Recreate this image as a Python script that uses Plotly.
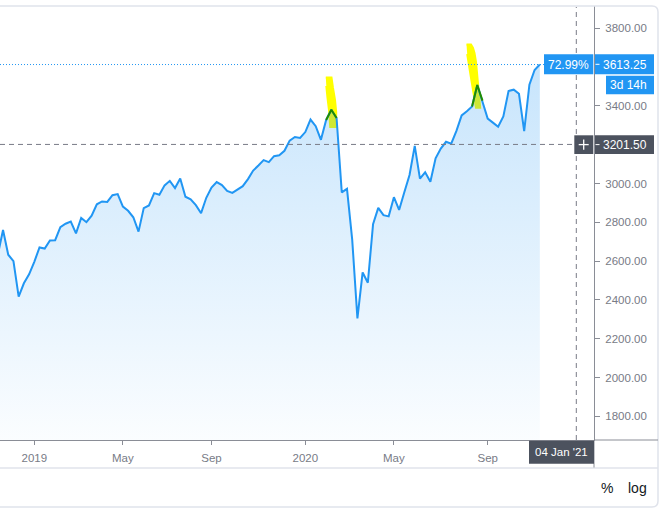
import pandas as pd
import plotly.graph_objects as go

# ---------------- data (weekly closes, week starting Monday) ----------------
week_start = "2018-11-12"
closes = [
    2736.27, 2632.56, 2760.17, 2633.08, 2599.95, 2416.62, 2485.74, 2531.94,
    2596.26, 2670.71, 2664.76, 2706.53, 2707.88, 2775.60, 2792.67, 2803.69,
    2743.07, 2822.48, 2800.71, 2834.40, 2892.74, 2907.41, 2905.03, 2939.88,
    2945.64, 2881.40, 2859.53, 2826.06, 2752.06, 2873.34, 2886.98, 2950.46,
    2941.76, 2990.41, 3013.77, 2976.61, 3025.86, 2932.05, 2918.65, 2888.68,
    2847.11, 2926.46, 2978.71, 3007.39, 2992.07, 2961.79, 2952.01, 2970.27,
    2986.20, 3022.55, 3066.91, 3093.08, 3120.46, 3110.29, 3140.98, 3145.91,
    3168.80, 3221.22, 3240.02, 3234.85,
    3265.35, 3329.62, 3295.47, 3225.52, 3327.71, 3380.16, 3337.75, 2954.22,
    2972.37, 2711.02, 2304.92, 2541.47, 2488.65, 2789.82, 2874.56, 2836.74,
    2830.71, 2929.80, 2863.70, 2955.45, 3044.31, 3193.93, 3025.00, 3058.00,
    3009.05, 3130.01, 3180.00, 3215.00, 3205.00, 3271.12, 3351.28, 3372.85,
    3397.16, 3508.01, 3426.96, 3335.00, 3314.00, 3293.00, 3345.44, 3477.13,
    3483.81, 3462.39, 3269.96, 3509.44, 3585.15, 3613.25,
]
weeks = pd.date_range(week_start, periods=len(closes), freq="7D")

tick_dates = ["2019-01-07", "2019-05-06", "2019-09-02",
              "2020-01-06", "2020-05-04", "2020-09-07"]
tick_labels = ["2019", "May", "Sep", "2020", "May", "Sep"]
# 3200 and 3600 sit under the price / crosshair labels, so they are not shown
y_ticks = [1800, 2000, 2200, 2400, 2600, 2800, 3000, 3400, 3800]

last_price = 3613.25
pct_label = "72.99%"
countdown = "3d 14h"
cross_price = 3201.50
cross_date = "2021-01-04"
cross_date_label = "04 Jan '21"

# highlighted weeks (hand-drawn marker strokes)
hl_weeks = [("2020-02-03", "2020-02-17"), ("2020-08-17", "2020-08-31")]

# ---------------- layout geometry ----------------
W, H = 665, 508
ML, MR, MT, MB = 0, 71, 6, 68
PW, PH = W - ML - MR, H - MT - MB
X_RANGE = [pd.Timestamp("2018-11-21 22:18"), pd.Timestamp("2021-01-27 18:36")]
Y_RANGE = [1678, 3915]

BLUE = "#2196f3"
DARK = "#4c525e"
AXIS = "#8a8d96"
TXT = "#787b86"
BORDER = "#e0e3eb"
FONT = "Liberation Sans, Arial, sans-serif"


def xp(px):
    return (px - ML) / PW


def yp(py):
    return (MT + PH - py) / PH


def px2date(px):
    return X_RANGE[0] + (X_RANGE[1] - X_RANGE[0]) * ((px - ML) / PW)


def py2val(py):
    return Y_RANGE[1] - (py - MT) / PH * (Y_RANGE[1] - Y_RANGE[0])


# marker strokes outline (pixel space of the chart)
stroke1 = [(325.8, 77.5), (331.5, 77.5), (333, 88), (335, 100), (336.2, 112),
           (336.2, 127), (330.2, 127), (329.2, 112), (327.5, 98), (326.3, 86)]
stroke2 = [(466.5, 44.5), (471, 44.5), (473, 48), (474.5, 53), (476, 62),
           (477, 72), (478, 85), (479.3, 98), (480.2, 107.7), (476, 107.7),
           (475, 100), (472.7, 88), (470.7, 76), (468.7, 64), (467.2, 54)]

fig = go.Figure()

for st in (stroke1, stroke2):
    fig.add_trace(go.Scatter(
        x=[px2date(p[0]) for p in st], y=[py2val(p[1]) for p in st],
        mode="lines", fill="toself", fillcolor="#ffff00",
        line=dict(width=2, color="#ffff00"), hoverinfo="skip"))

fig.add_trace(go.Scatter(
    x=weeks, y=closes, mode="lines",
    line=dict(color=BLUE, width=2),
    fill="tozeroy",
    fillgradient=dict(type="vertical", start=Y_RANGE[0], stop=max(closes),
                      colorscale=[[0, "rgba(33,150,243,0.02)"],
                                  [1, "rgba(33,150,243,0.25)"]]),
    hoverinfo="skip"))

s = pd.Series(closes, index=weeks)
for a, b in hl_weeks:
    seg = s[a:b]
    fig.add_trace(go.Scatter(x=seg.index, y=seg.values, mode="lines",
                             line=dict(color="rgb(33,140,0)", width=2),
                             hoverinfo="skip"))

shapes = []
# price line
shapes.append(dict(type="line", xref="paper", yref="y", x0=0, x1=xp(544),
                   y0=last_price, y1=last_price,
                   line=dict(color=BLUE, width=1, dash="1px,2px")))
# crosshair
shapes.append(dict(type="line", xref="paper", yref="y", x0=0, x1=xp(574.3),
                   y0=cross_price, y1=cross_price,
                   line=dict(color=TXT, width=1, dash="5px,4px")))
shapes.append(dict(type="line", xref="x", yref="paper", x0=cross_date, x1=cross_date,
                   y0=0, y1=yp(7),
                   line=dict(color=TXT, width=1, dash="5px,4px")))
# outer border & separators
shapes.append(dict(type="path", xref="paper", yref="paper",
                   path=(f"M {xp(0)},{yp(6)} L {xp(652)},{yp(6)} "
                         f"Q {xp(658)},{yp(6)} {xp(658)},{yp(12)} "
                         f"L {xp(658)},{yp(501)} Q {xp(658)},{yp(507)} {xp(652)},{yp(507)} "
                         f"L {xp(0)},{yp(507)}"),
                   line=dict(color=BORDER, width=1.5)))
shapes.append(dict(type="line", xref="paper", yref="paper", x0=0, x1=xp(658),
                   y0=yp(468), y1=yp(468), line=dict(color=BORDER, width=1.5)))
shapes.append(dict(type="line", xref="paper", yref="paper", x0=1, x1=xp(658),
                   y0=0, y1=0, line=dict(color=AXIS, width=1)))
shapes.append(dict(type="line", xref="paper", yref="paper", x0=1, x1=1,
                   y0=0, y1=yp(467.5), line=dict(color=AXIS, width=1)))


def box(x0, x1, y0, y1, color):
    shapes.append(dict(type="rect", xref="paper", yref="paper",
                       x0=xp(x0), x1=xp(x1), y0=yp(y1), y1=yp(y0),
                       fillcolor=color, line=dict(width=0), layer="above"))


box(544, 593.3, 54.3, 74.3, BLUE)
box(595, 654, 54.3, 74.3, BLUE)
box(606, 654, 75.7, 94.3, BLUE)
box(595, 654, 135.3, 154, DARK)
box(574.3, 593.3, 135.3, 154, DARK)
box(529, 594, 440.7, 463.7, DARK)

# white tick marks inside value boxes and "+" glyph
for yy in (64.3, 144.6):
    shapes.append(dict(type="line", xref="paper", yref="paper", x0=xp(595.5), x1=xp(599.5),
                       y0=yp(yy), y1=yp(yy), line=dict(color="white", width=1)))
shapes.append(dict(type="line", xref="paper", yref="paper", x0=xp(578.7), x1=xp(588.7),
                   y0=yp(144.6), y1=yp(144.6), line=dict(color="white", width=1.3)))
shapes.append(dict(type="line", xref="paper", yref="paper", x0=xp(583.7), x1=xp(583.7),
                   y0=yp(139.4), y1=yp(149.8), line=dict(color="white", width=1.3)))

ann = []


def text(t, x, y, color="white", size=12):
    ann.append(dict(text=t, x=xp(x), y=yp(y), xref="paper", yref="paper",
                    showarrow=False, xanchor="center", yanchor="middle",
                    font=dict(color=color, size=size, family=FONT)))


text(pct_label, 568.7, 64.5)
text(f"{last_price:.2f}", 624.5, 64.5)
text(countdown, 628.2, 85.2)
text(f"{cross_price:.2f}", 624.5, 144.8)
text(cross_date_label, 561.5, 452.4, size=11.5)
text("%", 606.7, 488.3, "#131722", 14)
text("log", 637.8, 488.3, "#131722", 14)

fig.update_layout(
    width=W, height=H,
    margin=dict(l=ML, r=MR, t=MT, b=MB, pad=0),
    paper_bgcolor="white", plot_bgcolor="white",
    showlegend=False,
    shapes=shapes, annotations=ann,
    xaxis=dict(type="date", range=X_RANGE, tickvals=tick_dates, ticktext=tick_labels,
               ticks="outside", ticklen=4, tickcolor=AXIS, showline=True,
               linecolor=AXIS, linewidth=1, showgrid=False, zeroline=False,
               ticklabelstandoff=3,
               tickfont=dict(size=11.5, color=TXT, family=FONT)),
    yaxis=dict(side="right", range=Y_RANGE, tickvals=y_ticks, tickformat=".2f",
               ticks="outside", ticklen=5, tickcolor=AXIS, showline=True,
               linecolor=AXIS, linewidth=1, showgrid=False, zeroline=False,
               ticklabelstandoff=3,
               tickfont=dict(size=11.5, color=TXT, family=FONT)),
)

fig.write_html("out.html",
               config={"displayModeBar": False, "staticPlot": True},
               post_script="document.body.style.margin='0px';"
                           "document.body.style.overflow='hidden';")
